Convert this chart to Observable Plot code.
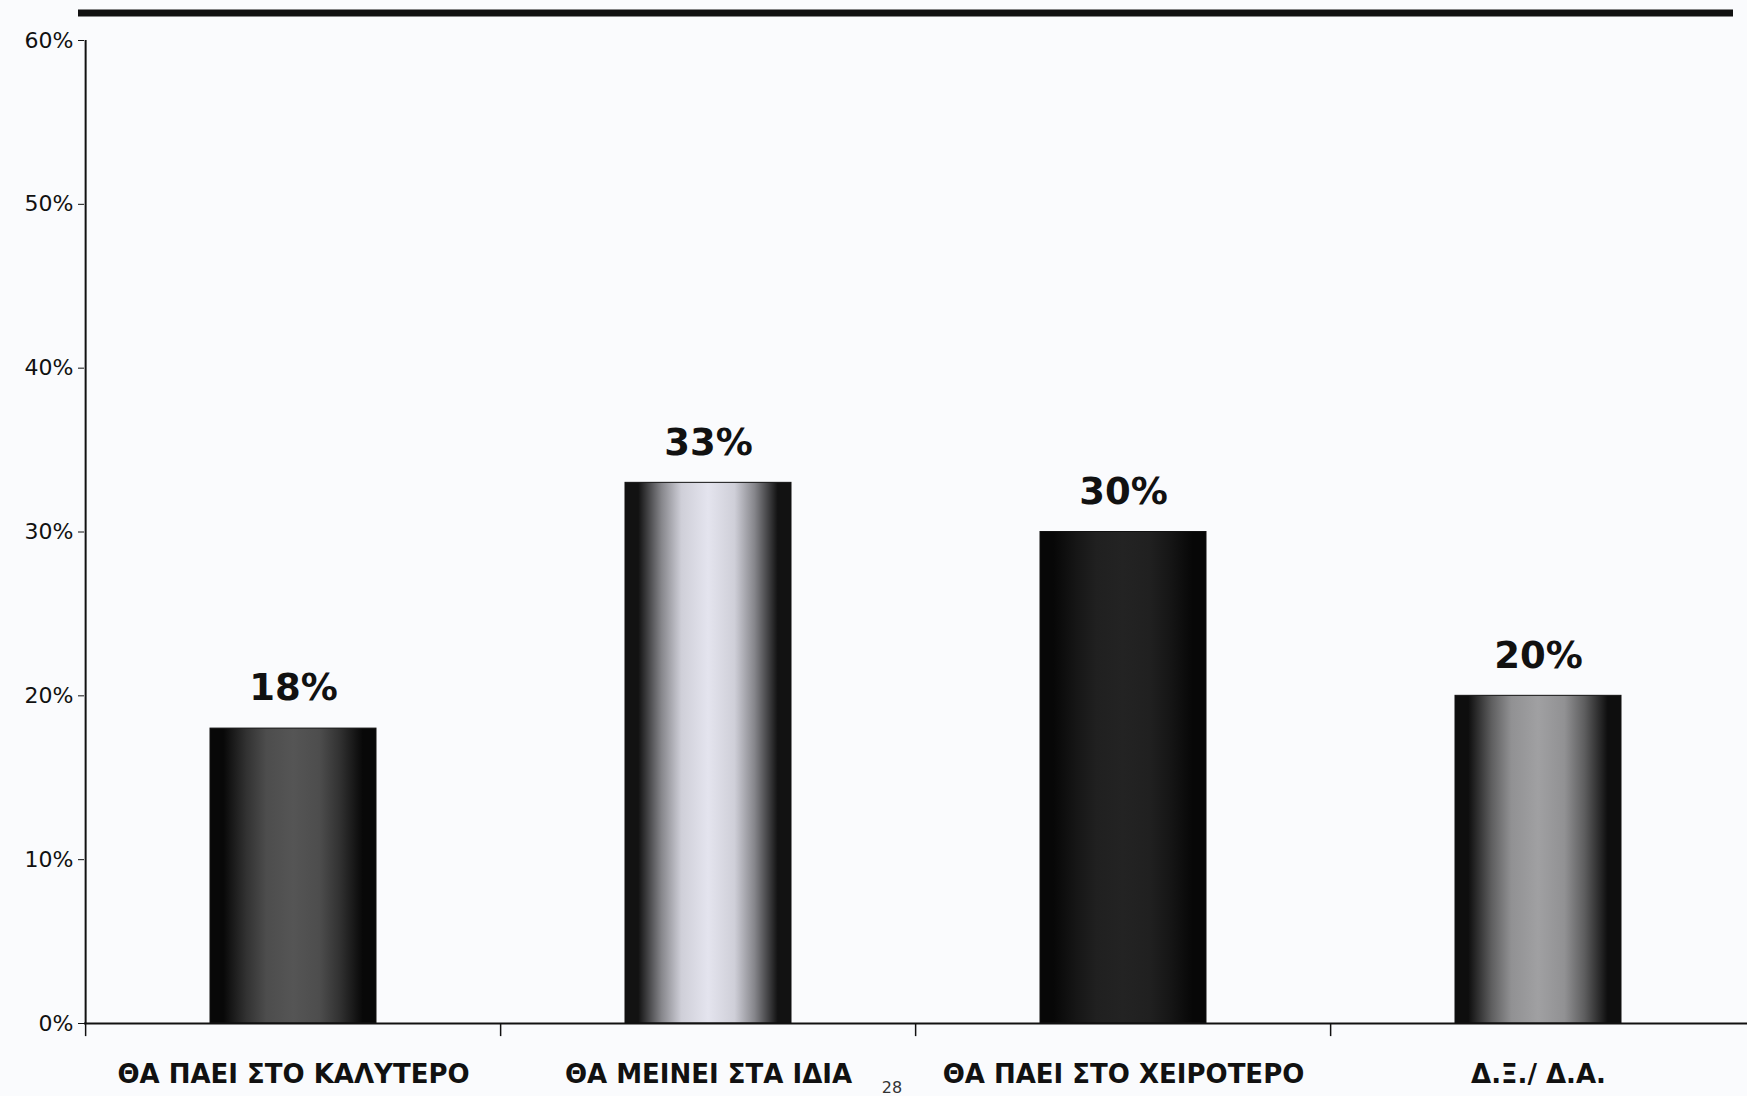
<!DOCTYPE html>
<html>
<head>
<meta charset="utf-8">
<script src="https://cdn.jsdelivr.net/npm/d3@7"></script>
<script src="https://cdn.jsdelivr.net/npm/@observablehq/plot@0.6"></script>
<style>
  html, body { margin: 0; padding: 0; background: #fafbfd; }
  #chart svg { display: block; background: #fafbfd; }
</style>
</head>
<body>
<div id="chart"></div>
<script>
// ---- data ----
const categories = ["ΘΑ ΠΑΕΙ ΣΤΟ ΚΑΛΥΤΕΡΟ", "ΘΑ ΜΕΙΝΕΙ ΣΤΑ ΙΔΙΑ", "ΘΑ ΠΑΕΙ ΣΤΟ ΧΕΙΡΟΤΕΡΟ", "Δ.Ξ./ Δ.Α."];
const values = [18, 33, 30, 20];
const valueLabels = ["18%", "33%", "30%", "20%"];
const yTicks = [0, 10, 20, 30, 40, 50, 60];

// ---- styles (gradient per bar: edge colour, centre colour) ----
const gradients = [
  {edge: "#080808", mid: "#555555"},
  {edge: "#121212", mid: "#e4e4ee"},
  {edge: "#070707", mid: "#232323"},
  {edge: "#0e0e0e", mid: "#a0a0a2"}
];

const W = 1747, H = 1096;
const mL = 84, mR = 0, mT = 40, mB = 73;
const step = (W - mL - mR) / categories.length;

const data = categories.map((c, i) => ({cat: c, value: values[i], label: valueLabels[i], grad: `url(#bargrad${i})`}));

const chart = Plot.plot({
  width: W,
  height: H,
  marginLeft: mL,
  marginRight: mR,
  marginTop: mT,
  marginBottom: mB,
  style: {background: "#fafbfd", fontFamily: "DejaVu Sans, Verdana, sans-serif", color: "#111"},
  x: {type: "band", domain: categories, paddingInner: 0.6, paddingOuter: 0.3},
  y: {domain: [0, 60]},
  color: {type: "identity"},
  marks: [
    Plot.barY(data, {x: "cat", y: "value", fill: "grad", stroke: "#111", strokeWidth: 1}),
    Plot.text(data, {x: "cat", y: "value", text: "label", dy: -40, fontSize: 37, fontWeight: "bold", fill: "#111"}),
    // axes lines
    Plot.ruleY([0], {stroke: "#111", strokeWidth: 2}),
    Plot.ruleX(categories, {x: d => d, dx: -step / 2, y1: 60, y2: 0, stroke: "#111", strokeWidth: 2, filter: (d, i) => i === 0}),
    // boundary ticks below the x axis
    Plot.ruleX(categories, {x: d => d, dx: -step / 2, y1: 0, y2: -0.8, stroke: "#111", strokeWidth: 1.5}),
    Plot.axisY({ticks: yTicks, tickFormat: d => d + "%", tickSize: 6, tickPadding: 5, fontSize: 22, label: null, stroke: "#111"}),
    Plot.axisX({tickSize: 0, tickPadding: 41, fontSize: 26, fontWeight: "bold", label: null})
  ]
});

// gradient definitions (smooth cylindrical shading)
const svg = d3.select(chart);
const defs = svg.insert("defs", ":first-child");
gradients.forEach((g, i) => {
  const mix = d3.interpolateRgb(g.edge, g.mid);
  const lg = defs.append("linearGradient").attr("id", `bargrad${i}`).attr("x1", 0).attr("x2", 1).attr("y1", 0).attr("y2", 0);
  [[0, 0], [0.08, 0], [0.22, 0.55], [0.34, 0.9], [0.5, 1], [0.66, 0.9], [0.78, 0.55], [0.92, 0], [1, 0]].forEach(([o, t]) => {
    lg.append("stop").attr("offset", o).attr("stop-color", mix(t));
  });
});
// heavy rule across the top of the page
svg.append("line").attr("x1", 78).attr("x2", 1733).attr("y1", 13).attr("y2", 13)
  .attr("stroke", "#111").attr("stroke-width", 7);
// page number
svg.append("text").attr("x", 892).attr("y", 1093).attr("text-anchor", "middle")
  .attr("font-size", 16).attr("fill", "#333").text("28");

document.getElementById("chart").appendChild(chart);
</script>
</body>
</html>
